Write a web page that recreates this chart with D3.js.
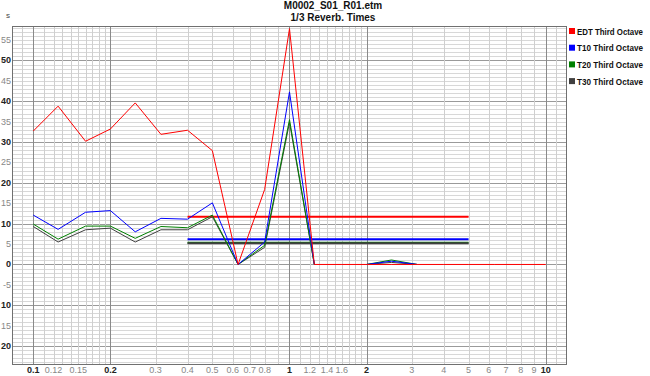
<!DOCTYPE html>
<html>
<head>
<meta charset="utf-8">
<script src="https://cdn.jsdelivr.net/npm/d3@7/dist/d3.min.js"></script>
<style>
  body { margin: 0; background: #fff; }
  svg { display: block; font-family: "Liberation Sans", Arial, sans-serif; }
</style>
</head>
<body>
<div id="chart"></div>
<script>
// third octave bands (kHz)
const freqs = [0.1, 0.125, 0.16, 0.2, 0.25, 0.315, 0.4, 0.5, 0.63, 0.8, 1, 1.25, 1.6, 2, 2.5, 3.15, 4, 5, 6.3, 8, 10];
const edt = [32.7, 38.8, 30.2, 33.2, 39.6, 31.9, 32.9, 27.9, 0, 18.4, 57.8, 0, 0, 0, 0, 0, 0, 0, 0, 0, 0];
const t10 = [12.1, 8.6, 12.8, 13.2, 8.0, 11.3, 11.1, 15.1, 0, 5.5, 42.3, 0, null, 0, 0.8, 0, null, null, null, null, null];
const t20 = [9.9, 6.2, 9.4, 9.4, 6.4, 9.3, 9.0, 12.1, 0, 4.7, 35.5, 0, null, 0, 1.1, 0, null, null, null, null, null];
const t30 = [9.3, 5.5, 8.5, 8.9, 5.5, 8.5, 8.5, 11.7, 0, 4.2, 34.8, 0, null, 0, 0.5, 0, null, null, null, null, null];

const seriesNames = ["EDT Third Octave", "T10 Third Octave", "T20 Third Octave", "T30 Third Octave"];
const seriesColors = ["#ff0000", "#0000ff", "#008000", "#404040"];
// averages drawn between 0.4 and 5 kHz
const avgRange = [0.4, 5];
const avgValues = [11.7, 6.2, 5.3, 5.2];

const xTickLabels = [0.1, 0.12, 0.15, 0.2, 0.3, 0.4, 0.5, 0.6, 0.7, 0.8, 1, 1.2, 1.4, 1.6, 2, 3, 4, 5, 6, 7, 8, 9, 10];
const xMajor = [0.1, 0.2, 1, 2, 10];
const yTicks = [-20, -15, -10, -5, 0, 5, 10, 15, 20, 25, 30, 35, 40, 45, 50, 55];
// the minus sign of the wider labels falls off the left edge in the original
const yTickLabels = ["20", "15", "10", "-5", "0", "5", "10", "15", "20", "25", "30", "35", "40", "45", "50", "55"];

const width = 650, height = 376;
const plot = { left: 12, right: 566, top: 26, bottom: 364 };

const svg = d3.select("#chart").append("svg")
    .attr("width", width)
    .attr("height", height);

const x = d3.scaleLog()
    .domain([0.0826, 12])
    .range([plot.left, plot.right]);

const y = d3.scaleLinear()
    .domain([-24.4, 58.45])
    .range([plot.bottom, plot.top]);

// grid lines
const grid = svg.append("g");

// horizontal: every unit
const hLines = d3.range(-24, 59, 1);
grid.selectAll("line.h")
    .data(hLines)
    .enter()
    .append("line")
    .attr("x1", plot.left).attr("x2", plot.right)
    .attr("y1", d => Math.round(y(d)) + 0.5)
    .attr("y2", d => Math.round(y(d)) + 0.5)
    .attr("stroke", d => d % 10 === 0 ? "#9a9a9a" : "#d8d8d8")
    .attr("stroke-width", 1);

// vertical: log minor lines
let vLines = [0.09];
for (let v = 0.1; v < 0.2 - 1e-9; v += 0.01) vLines.push(+v.toFixed(2));
for (let v = 0.2; v < 1 - 1e-9; v += 0.1) vLines.push(+v.toFixed(1));
for (let v = 1; v < 2 - 1e-9; v += 0.1) vLines.push(+v.toFixed(1));
for (let v = 2; v <= 11; v += 1) vLines.push(v);

grid.selectAll("line.v")
    .data(vLines)
    .enter()
    .append("line")
    .attr("y1", plot.top).attr("y2", plot.bottom)
    .attr("x1", d => Math.round(x(d)) + 0.5)
    .attr("x2", d => Math.round(x(d)) + 0.5)
    .attr("stroke", d => xMajor.includes(d) ? "#8a8a8a" : "#cfcfcf")
    .attr("stroke-width", 1);

// frame
svg.append("rect")
    .attr("x", plot.left + 0.5)
    .attr("y", plot.top + 0.5)
    .attr("width", plot.right - plot.left)
    .attr("height", plot.bottom - plot.top)
    .attr("fill", "none")
    .attr("stroke", "#707070");

// y tick labels
svg.append("g")
    .selectAll("text")
    .data(yTicks)
    .enter()
    .append("text")
    .attr("x", 11)
    .attr("y", d => y(d) + 3)
    .attr("text-anchor", "end")
    .attr("font-size", "9px")
    .attr("font-weight", d => d % 10 === 0 ? "bold" : "normal")
    .attr("fill", d => d % 10 === 0 ? "#222" : "#888")
    .text((d, i) => yTickLabels[i]);

svg.append("text")
    .attr("x", 8).attr("y", 18)
    .attr("text-anchor", "middle")
    .attr("font-size", "8px")
    .attr("fill", "#444")
    .text("s");

// x tick labels
svg.append("g")
    .selectAll("text")
    .data(xTickLabels)
    .enter()
    .append("text")
    .attr("x", d => x(d))
    .attr("y", 373)
    .attr("text-anchor", "middle")
    .attr("font-size", "9px")
    .attr("font-weight", d => xMajor.includes(d) ? "bold" : "normal")
    .attr("fill", d => xMajor.includes(d) ? "#222" : "#888")
    .text(d => d);

// title
svg.append("text")
    .attr("x", 333).attr("y", 9)
    .attr("text-anchor", "middle")
    .attr("font-size", "10px")
    .attr("font-weight", "bold")
    .attr("fill", "#111")
    .text("M0002_S01_R01.etm");

svg.append("text")
    .attr("x", 333).attr("y", 21)
    .attr("text-anchor", "middle")
    .attr("font-size", "10px")
    .attr("font-weight", "bold")
    .attr("fill", "#111")
    .text("1/3 Reverb. Times");

// clipped plot area
svg.append("clipPath").attr("id", "clip")
    .append("rect")
    .attr("x", plot.left).attr("y", plot.top)
    .attr("width", plot.right - plot.left)
    .attr("height", plot.bottom - plot.top);

const plotG = svg.append("g").attr("clip-path", "url(#clip)");

// average lines
plotG.selectAll("line.avg")
    .data(avgValues)
    .enter()
    .append("line")
    .attr("x1", x(avgRange[0]))
    .attr("x2", x(avgRange[1]))
    .attr("y1", d => y(d))
    .attr("y2", d => y(d))
    .attr("stroke", (d, i) => seriesColors[i])
    .attr("stroke-width", 2);

// series
const allSeries = [edt, t10, t20, t30];
const line = d3.line()
    .defined(d => d[1] != null)
    .x(d => x(d[0]))
    .y(d => y(d[1]));

// draw T30 first, EDT last on top
[3, 2, 1, 0].forEach(i => {
    plotG.append("path")
        .datum(freqs.map((f, j) => [f, allSeries[i][j]]))
        .attr("fill", "none")
        .attr("stroke", seriesColors[i])
        .attr("stroke-width", 1)
        .attr("d", line);
});

// legend
const legend = svg.append("g");
seriesNames.forEach((name, i) => {
    legend.append("rect")
        .attr("x", 569)
        .attr("y", 28 + i * 16.7)
        .attr("width", 6)
        .attr("height", 6)
        .attr("fill", seriesColors[i]);
    legend.append("text")
        .attr("x", 577)
        .attr("y", 34.5 + i * 16.7)
        .attr("font-size", "8.5px")
        .attr("font-weight", "bold")
        .attr("fill", "#111")
        .attr("textLength", 66)
        .attr("lengthAdjust", "spacingAndGlyphs")
        .text(name);
});
</script>
</body>
</html>
